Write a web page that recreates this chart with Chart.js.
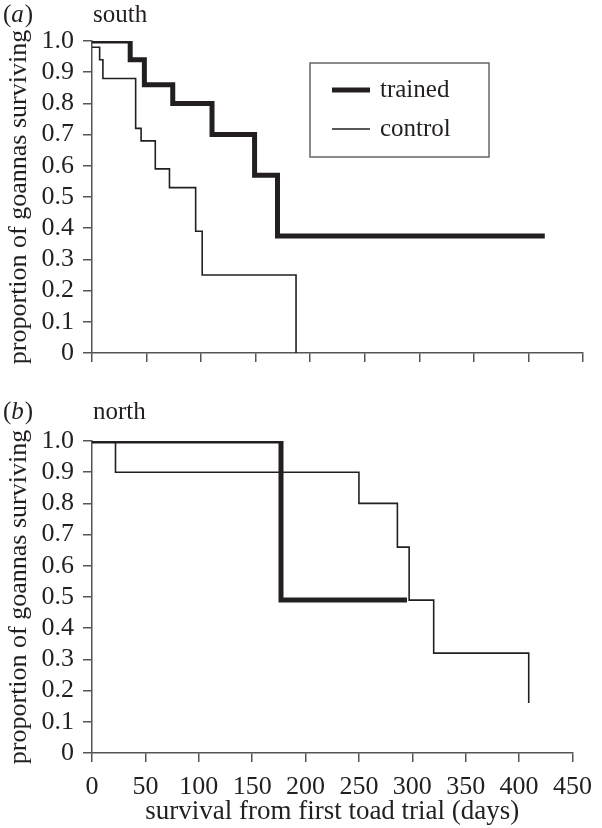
<!DOCTYPE html>
<html>
<head>
<meta charset="utf-8">
<title>Goanna survival</title>
<script src="https://cdn.jsdelivr.net/npm/chart.js@4.4.0/dist/chart.umd.min.js"></script>
<style>
  html, body { margin: 0; padding: 0; background: #fff; }
  #wrap { position: relative; width: 602px; height: 828px; }
  canvas { position: absolute; left: 0; }
  #southChart { top: 0; }
  #northChart { top: 400px; }
</style>
</head>
<body>
<div id="wrap">
  <canvas id="southChart" width="602" height="400"></canvas>
  <canvas id="northChart" width="602" height="428"></canvas>
</div>
<script>
// survival curves (days, proportion surviving)
const southTrainedDays = [0, 35, 48, 74, 110, 149, 170, 415];
const southTrainedSurv = [1.0, 0.94, 0.86, 0.80, 0.70, 0.57, 0.375, 0.375];
const southControlDays = [0, 7, 10, 40, 45, 58, 71, 95, 101, 187];
const southControlSurv = [0.98, 0.94, 0.88, 0.72, 0.68, 0.59, 0.53, 0.39, 0.25, 0];

const northTrainedDays = [0, 177, 295];
const northTrainedSurv = [1.0, 0.49, 0.49];
const northControlDays = [0, 22, 250, 286, 297, 320, 409];
const northControlSurv = [1.0, 0.9, 0.8, 0.66, 0.49, 0.32, 0.16];

const dayTicks = [0, 50, 100, 150, 200, 250, 300, 350, 400, 450];
const propTicks = [0, 0.1, 0.2, 0.3, 0.4, 0.5, 0.6, 0.7, 0.8, 0.9, 1.0];
const seriesNames = ['trained', 'control'];

const ink = '#231f20';
const axisCol = '#555555';
const serif = '"Liberation Serif", "Times New Roman", serif';
const labelFont = { family: serif, size: 26 };
const titleFont = { family: serif, size: 27 };

const toPoints = (days, surv) => days.map((d, i) => ({ x: d, y: surv[i] }));

// (a) south / (b) north tags above each panel
const panelTag = {
    id: 'panelTag',
    afterDraw(chart, args, opts) {
        const ctx = chart.ctx;
        ctx.save();
        ctx.fillStyle = ink;
        ctx.textBaseline = 'middle';
        let x = 3;
        ctx.font = '25px ' + serif;
        ctx.fillText('(', x, opts.y);
        x += ctx.measureText('(').width;
        ctx.font = 'italic 25px ' + serif;
        ctx.fillText(opts.letter, x, opts.y);
        x += ctx.measureText(opts.letter).width + 1;
        ctx.font = '25px ' + serif;
        ctx.fillText(')', x, opts.y);
        ctx.fillText(opts.region, 93, opts.y);
        ctx.restore();
    }
};

// boxed legend inside the south panel
const boxLegend = {
    id: 'boxLegend',
    afterDraw(chart, args, opts) {
        if (!opts.show) return;
        const ctx = chart.ctx;
        ctx.save();
        ctx.strokeStyle = '#666666';
        ctx.lineWidth = 1.5;
        ctx.strokeRect(310, 63, 179, 94);
        ctx.font = '25px ' + serif;
        ctx.textBaseline = 'middle';
        chart.data.datasets.forEach((ds, i) => {
            const y = i === 0 ? 90 : 129;
            ctx.strokeStyle = ds.borderColor;
            ctx.lineWidth = ds.borderWidth;
            ctx.beginPath();
            ctx.moveTo(332, y);
            ctx.lineTo(370, y);
            ctx.stroke();
            ctx.fillStyle = ink;
            ctx.fillText(ds.label, 380, y);
        });
        ctx.restore();
    }
};

const makePanel = (canvasId, trained, control, tag, bottomAxis) => {
    const ctx = document.getElementById(canvasId).getContext('2d');
    const canvasH = ctx.canvas.height;
    new Chart(ctx, {
        type: 'line',
        data: {
            datasets: [{
                label: seriesNames[0],
                data: trained,
                borderColor: ink,
                borderWidth: 5,
                stepped: 'before',
                pointRadius: 0,
                fill: false,
                borderJoinStyle: 'miter',
                borderCapStyle: 'butt'
            }, {
                label: seriesNames[1],
                data: control,
                borderColor: ink,
                borderWidth: 1.6,
                stepped: 'before',
                pointRadius: 0,
                fill: false,
                borderJoinStyle: 'miter',
                borderCapStyle: 'butt'
            }]
        },
        options: {
            responsive: false,
            animation: false,
            layout: { padding: { top: 41, right: 19, left: 0, bottom: 0 } },
            plugins: {
                legend: { display: false },
                tooltip: { enabled: false },
                panelTag: tag,
                boxLegend: { show: !bottomAxis }
            },
            scales: {
                x: {
                    type: 'linear',
                    min: 0,
                    max: 450,
                    afterBuildTicks: s => { s.ticks = dayTicks.map(v => ({ value: v })); },
                    afterFit: s => { s.height = canvasH - 353; },
                    grid: { drawOnChartArea: false, tickLength: 9, color: axisCol, lineWidth: 1.5 },
                    border: { color: axisCol, width: 1.5 },
                    ticks: { display: bottomAxis, font: labelFont, color: ink, padding: 10, maxRotation: 0, autoSkip: false },
                    title: {
                        display: bottomAxis,
                        text: 'survival from first toad trial (days)',
                        font: titleFont,
                        color: ink,
                        padding: { top: 0, bottom: 0 }
                    }
                },
                y: {
                    min: 0,
                    max: 1,
                    afterBuildTicks: s => { s.ticks = propTicks.map(v => ({ value: v })); },
                    afterFit: s => { s.width = 92; },
                    grid: { drawOnChartArea: false, tickLength: 9, color: axisCol, lineWidth: 1.5 },
                    border: { color: axisCol, width: 1.5 },
                    ticks: {
                        font: labelFont,
                        color: ink,
                        padding: 9,
                        autoSkip: false,
                        callback: v => (v === 0 ? '0' : v.toFixed(1))
                    },
                    title: {
                        display: true,
                        text: 'proportion of goannas surviving',
                        font: labelFont,
                        color: ink,
                        padding: { top: 4, bottom: 0 }
                    }
                }
            }
        },
        plugins: [panelTag, boxLegend]
    });
};

makePanel('southChart',
    toPoints(southTrainedDays, southTrainedSurv),
    toPoints(southControlDays, southControlSurv),
    { letter: 'a', region: 'south', y: 15 }, false);

makePanel('northChart',
    toPoints(northTrainedDays, northTrainedSurv),
    toPoints(northControlDays, northControlSurv),
    { letter: 'b', region: 'north', y: 12 }, true);
</script>
</body>
</html>
